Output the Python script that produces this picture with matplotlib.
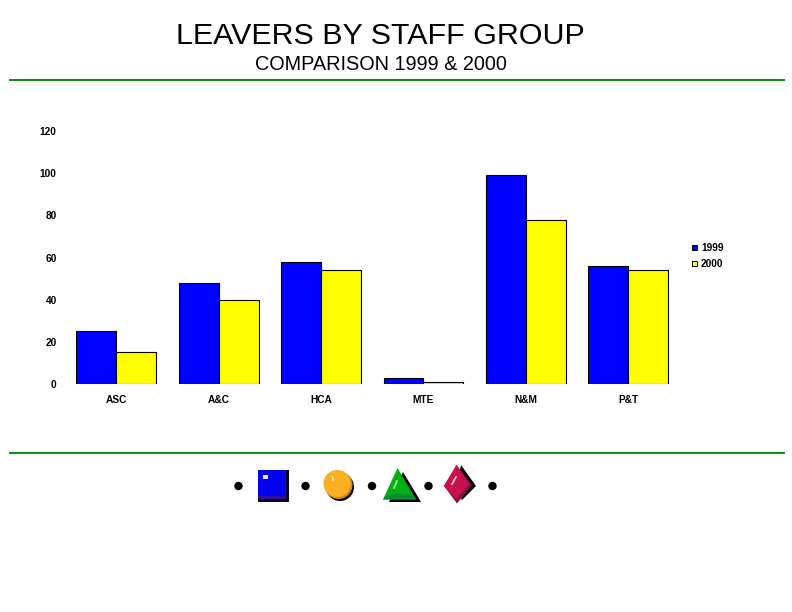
import matplotlib
matplotlib.use("Agg")
import matplotlib.pyplot as plt
from matplotlib.patches import Rectangle, Circle, Polygon
from matplotlib.lines import Line2D
import numpy as np

plt.rcParams['font.family'] = ['Liberation Sans', 'DejaVu Sans']

categories = ["ASC", "A&C", "HCA", "MTE", "N&M", "P&T"]
values_1999 = [25, 48, 58, 3, 99, 56]
values_2000 = [15, 40, 54, 1, 78, 54]
series_names = ["1999", "2000"]
y_ticks = [0, 20, 40, 60, 80, 100, 120]

W, H = 792, 612
fig = plt.figure(figsize=(W / 100, H / 100), dpi=100, facecolor="white")

# pixel-space overlay for decoration
bg = fig.add_axes([0, 0, 1, 1])
bg.set_xlim(0, W)
bg.set_ylim(H, 0)
bg.axis("off")

bg.text(380, 35.5, "LEAVERS BY STAFF GROUP", ha="center", va="center", fontsize=21.9, color="black")
bg.text(381, 64.5, "COMPARISON 1999 & 2000", ha="center", va="center", fontsize=14.3, color="black")
for y in (79.5, 452.5):
    bg.add_line(Line2D([10, 784], [y, y], color="#0b8a0b", lw=1.4))

# chart
left, right, top, bottom = 65, 679.5, 131, 384
ax = fig.add_axes([left / W, 1 - bottom / H, (right - left) / W, (bottom - top) / H])
x = np.arange(len(categories))
bw = 0.39
ax.bar(x - bw / 2, values_1999, bw, color="#0000ff", edgecolor="black", linewidth=0.8, label=series_names[0])
ax.bar(x + bw / 2, values_2000, bw, color="#ffff00", edgecolor="black", linewidth=0.8, label=series_names[1])
ax.set_xlim(-0.5, len(categories) - 0.5)
ax.set_ylim(0, 120)
ax.set_xticks(x, categories)
ax.set_yticks(y_ticks)
ax.patch.set_visible(False)
for s in ax.spines.values():
    s.set_visible(False)
ax.tick_params(length=0)
ax.tick_params(axis="x", pad=8.2)
ax.tick_params(axis="y", pad=6)
for lab in ax.get_xticklabels() + ax.get_yticklabels():
    lab.set_fontsize(7.3)
    lab.set_fontweight("bold")

# legend
for i, (name, col, y) in enumerate(zip(series_names, ["#0000ff", "#ffff00"], [247.5, 263.5])):
    bg.add_patch(Rectangle((692, y - 2.5), 5, 5, facecolor=col, edgecolor="black", lw=0.7))
    bg.text(701, y + 0.5, name, ha="left", va="center", fontsize=7.3, fontweight="bold")

# bullets
for bx in (238.5, 305.5, 372, 428.5, 492.5):
    bg.add_patch(Circle((bx, 486), 4.2, facecolor="black", edgecolor="none"))

# square icon
bg.add_patch(Rectangle((258, 470), 31, 31.5, facecolor="#080818", edgecolor="none"))
bg.add_patch(Rectangle((258, 470), 28, 29, facecolor="#30109a", edgecolor="none"))
bg.add_patch(Rectangle((258, 470), 27, 25.5, facecolor="#0000f0", edgecolor="none"))
bg.add_patch(Rectangle((263, 475), 5, 4, facecolor="#e8e8f8", edgecolor="none"))

# circle icon
bg.add_patch(Circle((340, 487), 14, facecolor="black", edgecolor="none"))
bg.add_patch(Circle((338.5, 485), 14, facecolor="#d98a10", edgecolor="none"))
bg.add_patch(Circle((337, 483.5), 13.5, facecolor="#fbb024", edgecolor="none"))
bg.add_line(Line2D([332.5, 333], [477, 480], color="#fff0c0", lw=1.1))

# triangle icon
bg.add_patch(Polygon([[403, 472], [421, 502], [389, 502]], facecolor="black", edgecolor="none"))
bg.add_patch(Polygon([[397.5, 468], [416, 499.5], [383, 499.5]], facecolor="#00b010", edgecolor="none"))
bg.add_patch(Polygon([[388, 494], [412.5, 494], [416, 499.5], [383, 499.5]], facecolor="#089030", edgecolor="none"))
bg.add_line(Line2D([394, 397], [488, 481], color="#b8f0b0", lw=1.2))

# diamond icon
bg.add_patch(Polygon([[461, 465], [476, 486], [462, 500], [456, 490]], facecolor="black", edgecolor="none"))
bg.add_patch(Polygon([[456.5, 465], [472, 485], [457, 503.5], [444, 486]], facecolor="#8a1048", edgecolor="none"))
bg.add_patch(Polygon([[456.5, 465], [469, 484], [456, 499], [444, 486]], facecolor="#c8104e", edgecolor="none"))
bg.add_line(Line2D([452, 456], [484, 477], color="#f8d0e0", lw=1.2))

fig.savefig("out.png", dpi=100)
